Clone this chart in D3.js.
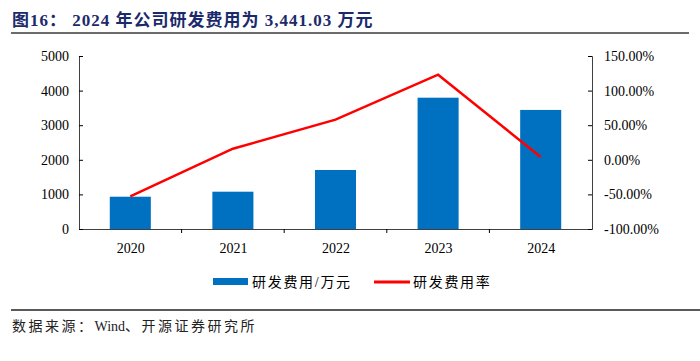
<!DOCTYPE html>
<html>
<head>
<meta charset="utf-8">
<script src="https://cdn.jsdelivr.net/npm/d3@7"></script>
<style>
  body { margin: 0; background: #fff; }
  svg text { font-family: "Liberation Serif", "Noto Sans CJK SC", serif; }
</style>
</head>
<body>
<svg class="chart" width="700" height="361"></svg>
<script>
// 数据
var years = ['2020', '2021', '2022', '2023', '2024'];
var rdCost = [933, 1078, 1705, 3795, 3441.03];      // 研发费用/万元
var rdRate = [-53, 16, 58, 123, 4];                 // 研发费用率 (%)
var leftTicks = [0, 1000, 2000, 3000, 4000, 5000];
var rightTicks = [-100, -50, 0, 50, 100, 150];

var margin = { top: 56, right: 108, bottom: 132, left: 79 },
    width = 700 - margin.left - margin.right,
    height = 361 - margin.top - margin.bottom;

var svg = d3.select(".chart");

// 标题
svg.append("text")
  .attr("x", 12).attr("y", 26)
  .style("font-size", "17px").style("font-weight", "bold")
  .style("letter-spacing", "1px")
  .style("fill", "#1b2a6b")
  .text("图16： 2024 年公司研发费用为 3,441.03 万元");
svg.append("line")
  .attr("x1", 11).attr("x2", 689).attr("y1", 33).attr("y2", 33)
  .attr("stroke", "#6b6b6b").attr("stroke-width", 2);

var x = d3.scaleBand().domain(years).range([0, width]).paddingInner(0.6).paddingOuter(0.3);
var xLine = d3.scalePoint().domain(years).range([0, width]).padding(0.5);
var y = d3.scaleLinear().domain([0, 5000]).range([height, 0]);
var y2 = d3.scaleLinear().domain([-100, 150]).range([height, 0]);

var g = svg.append("g").attr("transform", "translate(" + margin.left + "," + margin.top + ")");

// 柱
g.selectAll(".bar")
  .data(rdCost)
  .enter().append("rect")
  .attr("class", "bar")
  .attr("x", function(d, i) { return x(years[i]); })
  .attr("y", function(d) { return y(d); })
  .attr("width", x.bandwidth())
  .attr("height", function(d) { return height - y(d); })
  .attr("fill", "#0070c0");

// 折线
var line = d3.line()
  .x(function(d, i) { return xLine(years[i]); })
  .y(function(d) { return y2(d); });
g.append("path")
  .datum(rdRate)
  .attr("d", line)
  .attr("fill", "none")
  .attr("stroke", "#ff0000")
  .attr("stroke-width", 2.5);

// 坐标轴
var xAxis = g.append("g")
  .attr("transform", "translate(0," + height + ")")
  .call(d3.axisBottom(xLine).tickSize(0).tickPadding(14));
// 分类间刻度
var bandStep = width / years.length;
xAxis.selectAll(".sep")
  .data(d3.range(1, years.length))
  .enter().append("line")
  .attr("x1", function(d) { return d * bandStep; })
  .attr("x2", function(d) { return d * bandStep; })
  .attr("y1", 0).attr("y2", 4)
  .attr("stroke", "#000");

var yAxis = g.append("g")
  .call(d3.axisRight(y).tickValues(leftTicks).tickSize(4).tickFormat(d3.format("d")));
yAxis.selectAll("text").attr("x", -10).style("text-anchor", "end");

var y2Axis = g.append("g")
  .attr("transform", "translate(" + width + ",0)")
  .call(d3.axisLeft(y2).tickValues(rightTicks).tickSize(4)
    .tickFormat(function(d) { return d.toFixed(2) + "%"; }));
y2Axis.selectAll("text").attr("x", 12).style("text-anchor", "start");

[xAxis, yAxis, y2Axis].forEach(function(a) {
  a.selectAll("text").style("font-size", "14px").style("fill", "#000")
    .style("font-family", "'Liberation Serif', serif");
  a.select(".domain").attr("stroke", "#404040");
});

// 图例
var legend = svg.append("g").attr("transform", "translate(0,282)");
legend.append("rect").attr("x", 213).attr("y", -4).attr("width", 35).attr("height", 7).attr("fill", "#0070c0");
legend.append("text").attr("x", 252).attr("y", 5).style("font-size", "14px")
  .style("letter-spacing", "1.7px").text("研发费用/万元");
legend.append("line").attr("x1", 374).attr("x2", 410).attr("y1", 0).attr("y2", 0)
  .attr("stroke", "#ff0000").attr("stroke-width", 3);
legend.append("text").attr("x", 413).attr("y", 5).style("font-size", "14px")
  .style("letter-spacing", "1.7px").text("研发费用率");

// 来源
svg.append("line")
  .attr("x1", 11).attr("x2", 700).attr("y1", 310).attr("y2", 310)
  .attr("stroke", "#222").attr("stroke-width", 1.5);
var src = svg.append("text")
  .attr("x", 12).attr("y", 331)
  .style("font-size", "14px").style("fill", "#222");
src.append("tspan").style("letter-spacing", "2.5px").text("数据来源：");
src.append("tspan").text("Wind");
src.append("tspan").style("letter-spacing", "2.5px").text("、开源证券研究所");
</script>
</body>
</html>
